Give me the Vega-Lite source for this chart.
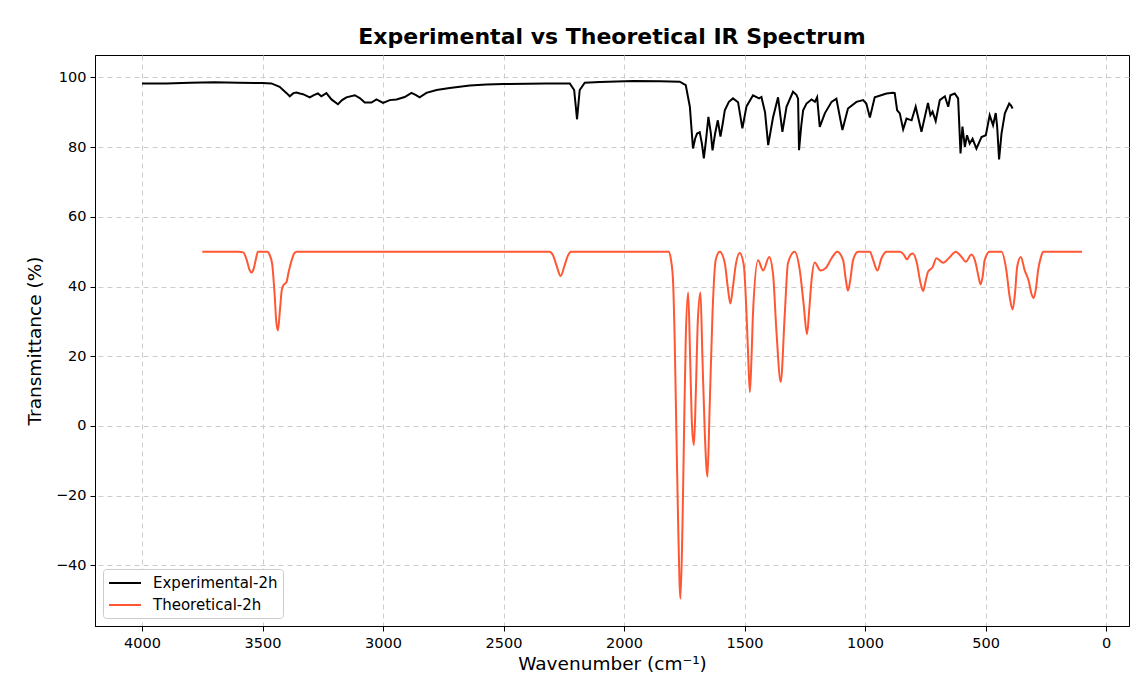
{
  "$schema": "https://vega.github.io/schema/vega-lite/v6.json",
  "width": 1034,
  "height": 571,
  "autosize": {"type": "none"},
  "padding": {"left": 95, "top": 55, "right": 6, "bottom": 65},
  "background": "white",
  "title": {"text": "Experimental vs Theoretical IR Spectrum", "fontSize": 22, "fontWeight": "bold", "anchor": "middle", "offset": 6, "font": "DejaVu Sans", "color": "black"},
  "datasets": {
    "exp": [
      {"wn":4000,"T":98.3},{"wn":3900,"T":98.3},{"wn":3800,"T":98.5},{"wn":3700,"T":98.6},{"wn":3600,"T":98.5},{"wn":3500,"T":98.4},{"wn":3463,"T":98.3},{"wn":3429,"T":97.3},{"wn":3400,"T":95.5},{"wn":3387,"T":94.6},{"wn":3372,"T":95.5},{"wn":3359,"T":95.7},{"wn":3345,"T":95.4},{"wn":3332,"T":95.2},{"wn":3304,"T":94.3},{"wn":3285,"T":95.0},{"wn":3270,"T":95.4},{"wn":3256,"T":94.6},{"wn":3235,"T":95.5},{"wn":3214,"T":93.7},{"wn":3187,"T":92.3},{"wn":3170,"T":93.5},{"wn":3152,"T":94.3},{"wn":3117,"T":94.9},{"wn":3095,"T":94.0},{"wn":3076,"T":92.8},{"wn":3048,"T":92.8},{"wn":3027,"T":93.7},{"wn":3000,"T":92.7},{"wn":2972,"T":93.5},{"wn":2944,"T":93.7},{"wn":2910,"T":94.4},{"wn":2882,"T":95.6},{"wn":2865,"T":95.0},{"wn":2848,"T":94.3},{"wn":2820,"T":95.6},{"wn":2778,"T":96.4},{"wn":2723,"T":97.0},{"wn":2640,"T":97.7},{"wn":2571,"T":98.0},{"wn":2500,"T":98.1},{"wn":2400,"T":98.2},{"wn":2322,"T":98.3},{"wn":2225,"T":98.3},{"wn":2207,"T":96.4},{"wn":2195,"T":88.0},{"wn":2184,"T":96.4},{"wn":2163,"T":98.5},{"wn":2100,"T":98.7},{"wn":1962,"T":99.0},{"wn":1850,"T":98.9},{"wn":1769,"T":98.8},{"wn":1744,"T":97.8},{"wn":1727,"T":91.6},{"wn":1714,"T":79.6},{"wn":1705,"T":82.5},{"wn":1697,"T":83.9},{"wn":1686,"T":84.3},{"wn":1677,"T":81.0},{"wn":1669,"T":76.8},{"wn":1660,"T":82.0},{"wn":1650,"T":88.7},{"wn":1640,"T":84.0},{"wn":1633,"T":79.1},{"wn":1622,"T":84.0},{"wn":1611,"T":87.7},{"wn":1600,"T":83.0},{"wn":1590,"T":87.0},{"wn":1582,"T":90.6},{"wn":1565,"T":93.0},{"wn":1548,"T":94.0},{"wn":1527,"T":92.9},{"wn":1509,"T":85.4},{"wn":1492,"T":91.7},{"wn":1465,"T":94.9},{"wn":1440,"T":94.0},{"wn":1430,"T":94.4},{"wn":1415,"T":90.0},{"wn":1402,"T":80.6},{"wn":1382,"T":88.5},{"wn":1361,"T":94.3},{"wn":1343,"T":84.4},{"wn":1326,"T":91.6},{"wn":1299,"T":95.9},{"wn":1285,"T":95.0},{"wn":1278,"T":93.9},{"wn":1274,"T":79.1},{"wn":1265,"T":86.0},{"wn":1257,"T":90.6},{"wn":1243,"T":92.5},{"wn":1222,"T":93.7},{"wn":1208,"T":93.0},{"wn":1199,"T":94.3},{"wn":1188,"T":85.8},{"wn":1167,"T":89.7},{"wn":1139,"T":93.0},{"wn":1119,"T":93.9},{"wn":1094,"T":84.9},{"wn":1071,"T":91.1},{"wn":1036,"T":93.0},{"wn":1008,"T":93.5},{"wn":995,"T":92.5},{"wn":980,"T":88.5},{"wn":960,"T":94.3},{"wn":911,"T":95.4},{"wn":884,"T":95.6},{"wn":877,"T":95.5},{"wn":867,"T":90.6},{"wn":856,"T":89.7},{"wn":842,"T":85.1},{"wn":828,"T":88.2},{"wn":807,"T":87.7},{"wn":790,"T":91.6},{"wn":766,"T":84.4},{"wn":739,"T":92.7},{"wn":729,"T":89.2},{"wn":720,"T":90.2},{"wn":707,"T":87.5},{"wn":690,"T":93.5},{"wn":669,"T":94.6},{"wn":655,"T":91.6},{"wn":646,"T":94.9},{"wn":628,"T":95.4},{"wn":614,"T":94.0},{"wn":604,"T":78.2},{"wn":596,"T":85.9},{"wn":586,"T":80.1},{"wn":577,"T":83.4},{"wn":566,"T":81.0},{"wn":554,"T":82.4},{"wn":538,"T":79.6},{"wn":517,"T":82.9},{"wn":499,"T":83.4},{"wn":483,"T":89.2},{"wn":469,"T":86.3},{"wn":458,"T":89.8},{"wn":452,"T":85.9},{"wn":444,"T":76.5},{"wn":434,"T":83.9},{"wn":420,"T":89.7},{"wn":402,"T":92.5},{"wn":395,"T":92.0},{"wn":388,"T":91.1}
    ],
    "theo": [
      {"wn":3750,"T":50},{"wn":3600,"T":50},{"wn":3580,"T":49.8},{"wn":3565,"T":47.5},{"wn":3555,"T":45},{"wn":3546,"T":44.0},{"wn":3537,"T":45},{"wn":3527,"T":48},{"wn":3519,"T":50},{"wn":3480,"T":50},{"wn":3470,"T":49},{"wn":3460,"T":46.5},{"wn":3450,"T":38},{"wn":3443,"T":30},{"wn":3436,"T":27.4},{"wn":3428,"T":33},{"wn":3420,"T":39},{"wn":3412,"T":40.5},{"wn":3401,"T":41.2},{"wn":3392,"T":44},{"wn":3380,"T":47.3},{"wn":3370,"T":49.3},{"wn":3359,"T":50},{"wn":2310,"T":50},{"wn":2295,"T":49},{"wn":2280,"T":46},{"wn":2263,"T":43.0},{"wn":2247,"T":46},{"wn":2232,"T":49},{"wn":2220,"T":50},{"wn":1815,"T":50},{"wn":1805,"T":47.5},{"wn":1797,"T":41.9},{"wn":1790,"T":25},{"wn":1783,"T":-1.3},{"wn":1775,"T":-30},{"wn":1766,"T":-49.6},{"wn":1758,"T":-30},{"wn":1751,"T":-1.3},{"wn":1744,"T":25},{"wn":1734,"T":38.3},{"wn":1726,"T":20},{"wn":1718,"T":0},{"wn":1710,"T":-5.5},{"wn":1702,"T":10},{"wn":1694,"T":30},{"wn":1683,"T":38.3},{"wn":1675,"T":20},{"wn":1665,"T":-2},{"wn":1654,"T":-14.6},{"wn":1645,"T":5},{"wn":1633,"T":32.3},{"wn":1620,"T":47.5},{"wn":1603,"T":50},{"wn":1582,"T":46.7},{"wn":1570,"T":40},{"wn":1559,"T":35.1},{"wn":1548,"T":40},{"wn":1537,"T":46},{"wn":1520,"T":49.6},{"wn":1503,"T":46},{"wn":1492,"T":32.3},{"wn":1485,"T":20},{"wn":1478,"T":9.7},{"wn":1471,"T":20},{"wn":1465,"T":32.3},{"wn":1444,"T":47.5},{"wn":1423,"T":44.6},{"wn":1398,"T":48.5},{"wn":1382,"T":43.7},{"wn":1368,"T":27.4},{"wn":1350,"T":12.6},{"wn":1333,"T":32.3},{"wn":1320,"T":46.7},{"wn":1292,"T":50},{"wn":1271,"T":44.7},{"wn":1255,"T":35},{"wn":1241,"T":26.3},{"wn":1232,"T":33},{"wn":1222,"T":41.9},{"wn":1209,"T":46.9},{"wn":1185,"T":44.6},{"wn":1163,"T":45.3},{"wn":1139,"T":48.1},{"wn":1116,"T":50},{"wn":1091,"T":47.5},{"wn":1080,"T":42},{"wn":1071,"T":38.8},{"wn":1061,"T":42},{"wn":1050,"T":47.5},{"wn":1029,"T":50},{"wn":980,"T":50},{"wn":966,"T":47.5},{"wn":949,"T":44.6},{"wn":932,"T":48.1},{"wn":911,"T":50},{"wn":856,"T":50},{"wn":840,"T":49.2},{"wn":826,"T":47.8},{"wn":812,"T":49.2},{"wn":801,"T":49.5},{"wn":785,"T":46.7},{"wn":770,"T":41},{"wn":759,"T":38.7},{"wn":749,"T":41.5},{"wn":739,"T":44.2},{"wn":720,"T":45.5},{"wn":704,"T":48.1},{"wn":676,"T":46.8},{"wn":649,"T":48.4},{"wn":624,"T":50},{"wn":601,"T":48.6},{"wn":582,"T":47.1},{"wn":559,"T":49.2},{"wn":541,"T":46.7},{"wn":530,"T":43},{"wn":521,"T":40.6},{"wn":512,"T":43},{"wn":504,"T":47.5},{"wn":483,"T":50},{"wn":434,"T":50},{"wn":414,"T":44.7},{"wn":400,"T":37},{"wn":388,"T":33.4},{"wn":378,"T":38},{"wn":369,"T":45.6},{"wn":354,"T":48.5},{"wn":338,"T":44.7},{"wn":320,"T":41.3},{"wn":310,"T":38},{"wn":300,"T":36.7},{"wn":290,"T":40},{"wn":282,"T":44.7},{"wn":270,"T":48.5},{"wn":261,"T":50},{"wn":100,"T":50}
    ]
  },
  "encoding": {
    "x": {"field": "wn", "type": "quantitative",
      "scale": {"domain": [-95, 4195], "reverse": true, "nice": false, "zero": false},
      "axis": {"values": [0,500,1000,1500,2000,2500,3000,3500,4000], "format": "d", "title": "Wavenumber (cm⁻¹)", "labelPadding": 5, "titlePadding": 5}},
    "y": {"field": "T", "type": "quantitative",
      "scale": {"domain": [-57.45, 106.45], "nice": false, "zero": false},
      "axis": {"values": [-40,-20,0,20,40,60,80,100], "format": "d", "title": "Transmittance (%)", "labelPadding": 4, "titlePadding": 11}},
    "order": {"field": "wn", "sort": "descending"}
  },
  "layer": [
    {
      "data": {"name": "exp"},
      "mark": {"type": "line", "strokeWidth": 2, "clip": true},
      "encoding": {
        "color": {"datum": "Experimental-2h", "type": "nominal",
          "scale": {"domain": ["Experimental-2h", "Theoretical-2h"], "range": ["#000000", "#FF5733"]},
          "legend": {"title": null, "orient": "bottom-left", "offset": 8}}
      }
    },
    {
      "data": {"name": "theo"},
      "mark": {"type": "line", "strokeWidth": 2, "interpolate": "monotone", "clip": true},
      "encoding": {
        "color": {"datum": "Theoretical-2h", "type": "nominal"}
      }
    }
  ],
  "config": {
    "font": "DejaVu Sans",
    "view": {"stroke": "#000000", "strokeWidth": 1},
    "axis": {
      "grid": true, "gridColor": "#cccccc", "gridDash": [5, 4], "gridWidth": 1,
      "domainColor": "#000000", "tickColor": "#000000", "tickSize": 5,
      "labelColor": "#000000", "labelFontSize": 14.5, "labelFont": "DejaVu Sans",
      "titleColor": "#000000", "titleFontSize": 18.5, "titleFontWeight": "normal", "titleFont": "DejaVu Sans"
    },
    "legend": {
      "labelFontSize": 15, "labelFont": "DejaVu Sans", "labelColor": "#000000",
      "symbolType": "M-1,0H3", "symbolStrokeWidth": 2, "symbolSize": 256,
      "padding": 5, "fillColor": "#ffffff", "strokeColor": "#cccccc", "cornerRadius": 3,
      "rowPadding": 5, "labelOffset": 27
    }
  }
}
